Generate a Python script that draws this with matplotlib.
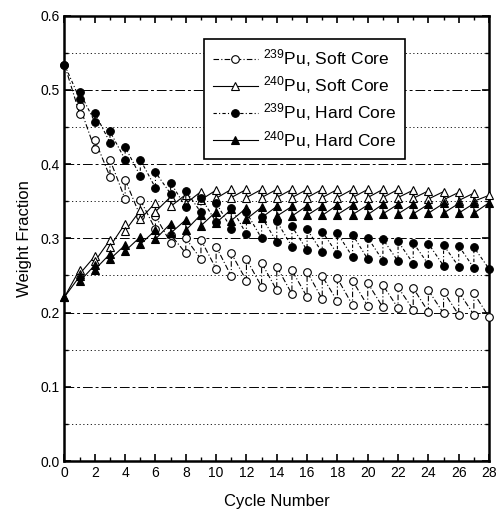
import numpy as np
import matplotlib
matplotlib.use("Agg")
import matplotlib.pyplot as plt
from matplotlib.ticker import MultipleLocator

plt.rcParams['font.family'] = ['Liberation Sans', 'DejaVu Sans']
plt.rcParams['mathtext.fontset'] = 'custom'
plt.rcParams['mathtext.rm'] = 'Liberation Sans'
plt.rcParams['mathtext.default'] = 'regular'

# value at the start of each cycle (cycles 0..27) and at its end (cycles 1..28)
soft239_start = [0.534, 0.478, 0.433, 0.406, 0.379, 0.352, 0.330, 0.305, 0.300, 0.298,
                 0.289, 0.280, 0.272, 0.267, 0.262, 0.257, 0.255, 0.249, 0.246, 0.243,
                 0.240, 0.237, 0.234, 0.233, 0.230, 0.228, 0.228, 0.226]
soft239_end = [0.468, 0.420, 0.383, 0.353, 0.330, 0.312, 0.294, 0.280, 0.272, 0.259,
               0.249, 0.243, 0.235, 0.230, 0.225, 0.221, 0.218, 0.215, 0.210, 0.209,
               0.207, 0.206, 0.204, 0.201, 0.199, 0.197, 0.197, 0.194]

soft240_start = [0.221, 0.252, 0.269, 0.289, 0.310, 0.326, 0.336, 0.343, 0.347, 0.352,
                 0.354, 0.355, 0.355, 0.355, 0.355, 0.355, 0.355, 0.355, 0.355, 0.355,
                 0.355, 0.355, 0.355, 0.354, 0.353, 0.352, 0.351, 0.350]
soft240_end = [0.258, 0.276, 0.298, 0.320, 0.338, 0.348, 0.356, 0.359, 0.363, 0.365,
               0.366, 0.366, 0.366, 0.366, 0.366, 0.366, 0.366, 0.366, 0.366, 0.366,
               0.366, 0.366, 0.365, 0.364, 0.363, 0.362, 0.361, 0.358]

hard239_start = [0.534, 0.497, 0.469, 0.444, 0.423, 0.406, 0.389, 0.375, 0.364, 0.355,
                 0.348, 0.341, 0.335, 0.329, 0.323, 0.316, 0.312, 0.309, 0.307, 0.305,
                 0.301, 0.299, 0.296, 0.294, 0.293, 0.291, 0.290, 0.288]
hard239_end = [0.488, 0.457, 0.429, 0.406, 0.384, 0.368, 0.360, 0.342, 0.335, 0.322,
               0.313, 0.306, 0.300, 0.295, 0.289, 0.284, 0.281, 0.279, 0.275, 0.272,
               0.270, 0.269, 0.266, 0.265, 0.263, 0.262, 0.260, 0.259]

hard240_start = [0.221, 0.242, 0.258, 0.272, 0.283, 0.292, 0.299, 0.307, 0.311, 0.317,
                 0.321, 0.324, 0.326, 0.328, 0.330, 0.330, 0.331, 0.331, 0.332, 0.332,
                 0.332, 0.333, 0.333, 0.333, 0.334, 0.334, 0.334, 0.334]
hard240_end = [0.249, 0.264, 0.279, 0.291, 0.302, 0.311, 0.320, 0.325, 0.332, 0.336,
               0.339, 0.341, 0.342, 0.343, 0.343, 0.344, 0.344, 0.345, 0.345, 0.345,
               0.346, 0.346, 0.346, 0.346, 0.347, 0.347, 0.347, 0.348]

labels = [r'$^{239}$Pu, Soft Core', r'$^{240}$Pu, Soft Core',
          r'$^{239}$Pu, Hard Core', r'$^{240}$Pu, Hard Core']


def sawtooth(start, end):
    # start of cycle n -> end of cycle n+1, then jump at refuelling
    xs, ys = [0], [start[0]]
    for n in range(1, len(end) + 1):
        xs.append(n)
        ys.append(end[n - 1])
        if n < len(start):
            xs.append(n)
            ys.append(start[n])
    return xs, ys


fig = plt.figure(figsize=(4.98, 5.14), dpi=100)
ax = fig.add_axes([0.1295, 0.103, 0.8525, 0.8665])

# horizontal grid
for yv in np.arange(0.05, 0.6, 0.05):
    if round(yv * 100) % 10 == 0:
        ax.axhline(yv, color='black', lw=0.7, ls=(0, (10, 3, 3, 3)), zorder=0)
    else:
        ax.axhline(yv, color='black', lw=0.6, ls=(0, (1.5, 3)), zorder=0)

styles = [
    (soft239_start, soft239_end, 'o', 'white', (0, (5, 2, 1, 2))),
    (soft240_start, soft240_end, '^', 'white', '-'),
    (hard239_start, hard239_end, 'o', 'black', (0, (3, 2, 1, 2))),
    (hard240_start, hard240_end, '^', 'black', '-'),
]
for (s, e, m, fc, ls), lab in zip(styles, labels):
    xs, ys = sawtooth(s, e)
    ax.plot(xs, ys, color='black', lw=0.8, ls=ls, marker=m, ms=5.5,
            mfc=fc, mec='black', mew=0.8, label=lab, clip_on=False, zorder=3)

ax.set_xlim(0, 28)
ax.set_ylim(0.0, 0.6)
ax.xaxis.set_major_locator(MultipleLocator(2))
ax.xaxis.set_minor_locator(MultipleLocator(1))
ax.yaxis.set_major_locator(MultipleLocator(0.1))
ax.yaxis.set_minor_locator(MultipleLocator(0.05))
ax.yaxis.set_major_formatter(plt.FuncFormatter(lambda v, p: f'{v:.1f}'))
ax.tick_params(which='both', direction='in', top=True, right=True, labelsize=10)
ax.tick_params(which='major', length=5, width=1.2)
ax.tick_params(which='minor', length=3, width=1.0)
for sp in ax.spines.values():
    sp.set_linewidth(1.8)

ax.set_xlabel('Cycle Number', fontsize=12, labelpad=10)
ax.set_ylabel('Weight Fraction', fontsize=12, labelpad=6)

leg = ax.legend(loc='upper left', bbox_to_anchor=(0.308, 0.968), fontsize=12.5,
                handlelength=2.6, labelspacing=0.3, borderpad=0.5,
                handletextpad=0.3, frameon=True, fancybox=False, framealpha=1)
leg.get_frame().set_edgecolor('black')
leg.get_frame().set_linewidth(1.2)

fig.savefig('out.png', dpi=100)
